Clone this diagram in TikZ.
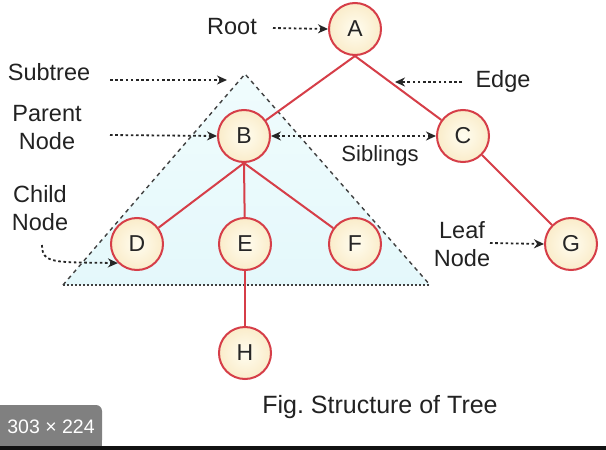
\documentclass[tikz,border=0pt]{standalone}
\usepackage{fontspec}
\setmainfont{Liberation Sans}
\usetikzlibrary{arrows.meta,shadings}
\definecolor{edgered}{RGB}{214,62,72}
\definecolor{creamin}{RGB}{255,253,240}
\definecolor{creamout}{RGB}{250,236,202}
\definecolor{subfill}{RGB}{228,248,251}
\definecolor{subtop}{RGB}{240,252,253}
\definecolor{labeltext}{RGB}{34,34,34}
\definecolor{badgegray}{RGB}{128,128,128}
\tikzset{
  treenode/.style={circle, draw=edgered, line width=2pt, minimum size=52pt, inner sep=0pt,
    inner color=creamin, outer color=creamout, font=\fontsize{23}{25}\selectfont, text=black!85},
  treeedge/.style={draw=edgered, line width=2pt},
  lbl/.style={font=\fontsize{23.5}{28}\selectfont, text=labeltext, align=center, inner sep=0pt},
  pointer/.style={line width=1.8pt, black!85, dash pattern=on 2.6pt off 2.6pt, -{Stealth[length=10pt,width=9pt]}},
}
\frenchspacing
\begin{document}
\begin{tikzpicture}[x=1pt,y=-1pt]
\useasboundingbox (0,0) rectangle (606,450);
\fill[white] (0,0) rectangle (606,450);
% subtree triangle
\coordinate (tA) at (245,74);
\coordinate (tL) at (63,285);
\coordinate (tR) at (430,285);
\shade[top color=subtop, bottom color=subfill] (tA) -- (tL) -- (tR) -- cycle;
\draw[line width=1.4pt, black!75, dash pattern=on 4pt off 4pt] (tL) -- (tA) -- (tR);
\draw[line width=1.7pt, black!75, dash pattern=on 2pt off 2pt] (tL) -- (tR);
% nodes
\node[treenode] (A) at (355,29) {A};
\node[treenode] (B) at (244,136) {B};
\node[treenode] (C) at (463,136) {C};
\node[treenode] (D) at (137,244) {D};
\node[treenode] (E) at (245,244) {E};
\node[treenode] (F) at (355,244) {F};
\node[treenode] (G) at (571,244) {G};
\node[treenode] (H) at (245,353) {H};
% edges
\draw[treeedge] (A.south) -- (B);
\draw[treeedge] (A.south) -- (C);
\draw[treeedge] (B.south) -- (D);
\draw[treeedge] (B.south) -- (E);
\draw[treeedge] (B.south) -- (F);
\draw[treeedge] (C) -- (G);
\draw[treeedge] (E) -- (H);
% labels
\node[lbl] (root) at (232,27) {Root};
\node[lbl] (subtree) at (49,72) {Subtree};
\node[lbl] (parent) at (47,128) {Parent\\Node};
\node[lbl] (child) at (40,208) {Child\\Node};
\node[lbl] (edge) at (503,81) {Edge};
\node[lbl, font=\fontsize{22}{26}\selectfont] (sib) at (380,156) {Siblings};
\node[lbl] (leaf) at (462,244) {Leaf\\Node};
\node[lbl, font=\fontsize{25}{28}\selectfont] (cap) at (380,407) {\frenchspacing Fig. Structure of Tree};
% pointers
\coordinate (rootS) at (273,28);
\draw[pointer] (rootS) -- (A.west);
\coordinate (subS) at (110,80);
\coordinate (subE) at (227,80);
\draw[pointer] (subS) -- (subE);
\coordinate (parS) at (110,135);
\draw[pointer] (parS) -- (B.west);
\draw[line width=1.8pt, black!85, dash pattern=on 2.6pt off 2.6pt, {Stealth[length=10pt,width=9pt]}-{Stealth[length=10pt,width=9pt]}] (B.east) -- (C.west);
\coordinate (edgeS) at (462,82);
\coordinate (edgeE) at (395,82);
\draw[pointer] (edgeS) -- (edgeE);
\coordinate (leafS) at (490,243);
\draw[pointer] (leafS) -- (G.west);
\coordinate (childS) at (42,245);
\draw[pointer] (childS) .. controls (42,264) and (55,262) .. (D.south west);
% badge and bottom bar
\fill[badgegray, rounded corners=6pt] (0,446) -- (0,405) -- (102,405) -- (102,446) -- cycle;
\fill[badgegray] (0,405) rectangle (10,446);
\fill[badgegray] (0,430) rectangle (102,446);
\node[lbl, text=white, font=\fontsize{19.5}{22}\selectfont] (badge) at (51,427) {303 × 224};
\fill[black!93] (0,446) rectangle (606,450);
\end{tikzpicture}
\end{document}
